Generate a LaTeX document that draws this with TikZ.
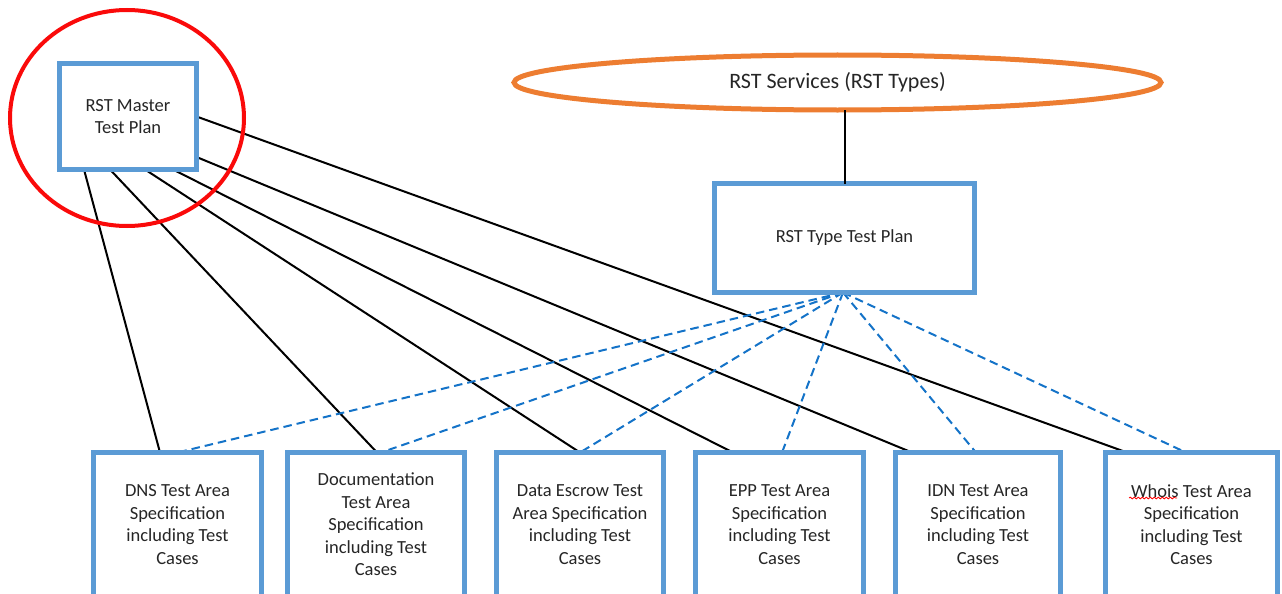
\documentclass[tikz,border=0pt]{standalone}
\usepackage{fontspec}
\setmainfont{Carlito}
\usetikzlibrary{shapes.geometric,decorations.pathmorphing}
\definecolor{boxblue}{RGB}{91,155,213}
\definecolor{dashblue}{RGB}{20,115,200}
\definecolor{svcorange}{RGB}{237,125,49}
\definecolor{circred}{RGB}{250,10,10}
\begin{document}
\begin{tikzpicture}[x=1pt,y=-1pt,
  plan/.style={draw=boxblue,line width=5pt,fill=white,align=center,inner sep=0pt,outer sep=0pt,
    font=\fontsize{18.5}{22.5}\selectfont,text=black!85},
  area/.style={plan,minimum height=144pt},
  masterlink/.style={black,line width=2pt},
  typelink/.style={dashblue,line width=2pt,dash pattern=on 8.5pt off 5pt},
  highlight/.style={draw=circred,line width=4pt,ellipse,minimum width=234pt,minimum height=216pt,inner sep=0pt},
  service/.style={draw=svcorange,line width=5pt,ellipse,fill=white,minimum width=647pt,minimum height=55pt,inner sep=0pt,outer sep=0pt,
    font=\fontsize{22}{26}\selectfont,text=black!85}]
\useasboundingbox (0,0) rectangle (1282,594);
\clip (0,0) rectangle (1282,594);

% top nodes
\node[service] (svc) at (837.5,82.5) {RST Services (RST Types)};
\node[plan,minimum width=137pt,minimum height=106pt] (master) at (128,116.5) {RST Master\\Test Plan};
\node[plan,minimum width=260pt,minimum height=109pt] (type) at (844.5,238) {RST Type Test Plan};
\draw[masterlink] (svc.south -| type.north) -- (type.north);

% area nodes
\node[area,minimum width=168pt] (dns) at (177.5,524.5) {DNS Test Area\\Specification\\including Test\\Cases};
\node[area,minimum width=177pt] (doc) at (376,524.5) {Documentation\\Test Area\\Specification\\including Test\\Cases};
\node[area,minimum width=167pt] (esc) at (580,524.5) {Data Escrow Test\\Area Specification\\including Test\\Cases};
\node[area,minimum width=168pt] (epp) at (779.5,524.5) {EPP Test Area\\Specification\\including Test\\Cases};
\node[area,minimum width=165pt] (idn) at (978,524.5) {IDN Test Area\\Specification\\including Test\\Cases};
\node[area,minimum width=172pt] (whois) at (1191.5,524.5) {Whois Test Area\\Specification\\including Test\\Cases};

% connection points on the plan boxes
\coordinate (m1) at ([xshift=24.5pt]master.south west);
\coordinate (m2) at ([xshift=50.5pt]master.south west);
\coordinate (m3) at ([xshift=85.5pt]master.south west);
\coordinate (m4) at ([xshift=113.5pt]master.south west);
\coordinate (m5) at ([yshift=-40.5pt]master.east);
\coordinate (m6) at (master.east);
\coordinate (tp) at ([xshift=-1.5pt]type.south);

% master test plan to areas
\draw[masterlink] (m1) -- ([xshift=-17.5pt]dns.north);
\draw[masterlink] (m2) -- ([xshift=1pt]doc.north);
\draw[masterlink] (m3) -- (esc.north);
\draw[masterlink] (m4) -- ([xshift=-46.5pt]epp.north);
\draw[masterlink] (m5) -- ([xshift=-66pt]idn.north);
\draw[masterlink] (m6) -- ([xshift=-64.5pt]whois.north);
% type test plan to areas
\draw[typelink] (tp) -- (dns.north);
\draw[typelink] (tp) -- ([xshift=5pt]doc.north);
\draw[typelink] (tp) -- (esc.north);
\draw[typelink] (tp) -- ([xshift=2.5pt]epp.north);
\draw[typelink] (tp) -- ([xshift=-2pt]idn.north);
\draw[typelink] (tp) -- ([xshift=-5.5pt]whois.north);

% redraw box borders over the connector ends
\foreach \n in {dns,doc,esc,epp,idn,whois}
  \draw[boxblue,line width=5pt] (\n.north west) -- (\n.north east);
\draw[boxblue,line width=5pt] (type.south west) -- (type.south east);
\draw[boxblue,line width=5pt] (master.north east) -- (master.south east) -- (master.south west);

% spell-check underline under "Whois"
\draw[red,line width=0.8pt,decorate,decoration={snake,amplitude=0.9pt,segment length=4pt}]
  ([shift={(-62.5pt,-45.5pt)}]whois.north) -- ([shift={(-14.5pt,-45.5pt)}]whois.north);

% highlight circle
\node[highlight] (hl) at (127,118) {};
\end{tikzpicture}
\end{document}
